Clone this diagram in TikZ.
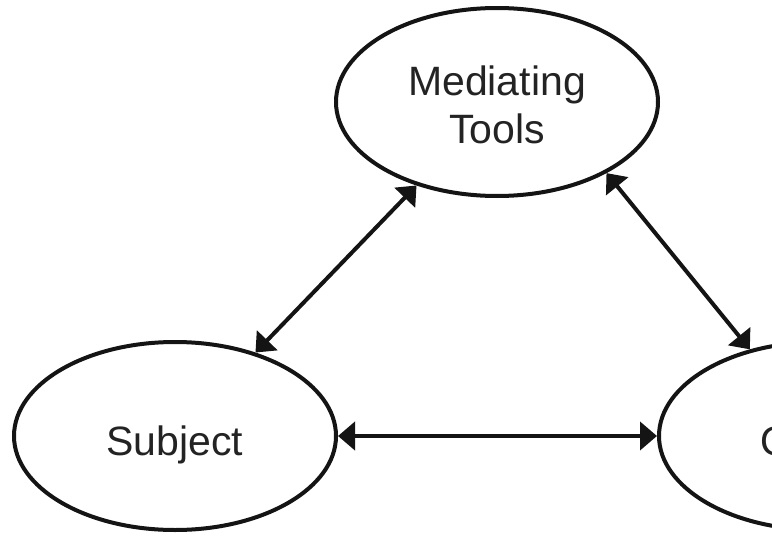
\documentclass[tikz,border=0pt]{standalone}
\usepackage{fontspec}
\setmainfont{Liberation Sans}
\usetikzlibrary{shapes.geometric,arrows.meta}
\definecolor{ink}{HTML}{141414}
\definecolor{label}{HTML}{232323}
\begin{document}
\begin{tikzpicture}[x=1pt,y=-1pt,
  bubble/.style={ellipse, draw=ink, line width=4pt, minimum width=322pt,
    minimum height=188pt, inner sep=0pt},
  txt/.style={font=\fontsize{41}{48}\selectfont, text=label, anchor=base,
    inner sep=0pt, align=center},
  link/.style={draw=ink, line width=4pt,
    {Triangle[length=17pt,width=28pt]}-{Triangle[length=17pt,width=28pt]}}]
  \useasboundingbox (0,0) rectangle (772,538);
  \clip (0,0) rectangle (772,538);

  % the three activity-system elements
  \node[bubble] (med) at (497,102) {};
  \node[bubble] (subj) at (175,436) {};
  \node[bubble] (obj) at (820,436) {};

  % base anchor of a two-line node sits on its last line
  \node[txt] (medtxt) at (497,143) {Mediating\\Tools};
  \node[txt] (subjtxt) at (175,455) {Subject};
  \node[txt] (objtxt) at (820,455) {Object};

  % two-way relations
  \draw[link] (med) -- (subj);
  \draw[link] (med.-33) -- (obj.129);
  \draw[link] (subj) -- (obj);
\end{tikzpicture}
\end{document}
